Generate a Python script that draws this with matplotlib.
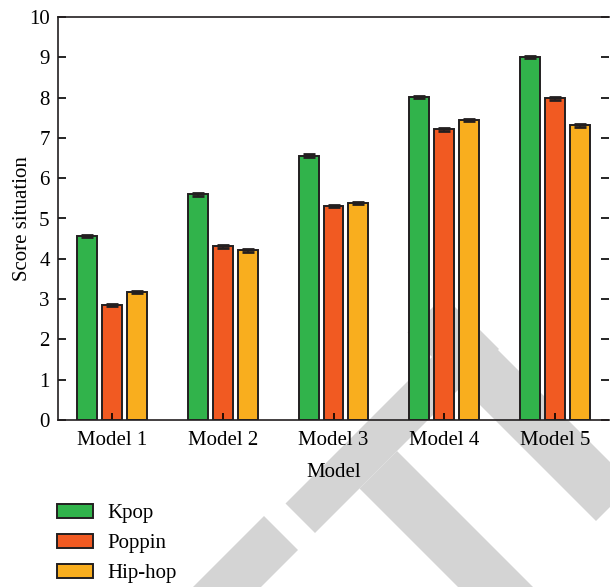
import numpy as np
import matplotlib
matplotlib.use('Agg')
import matplotlib.pyplot as plt
from matplotlib.patches import Polygon

models = ['Model 1', 'Model 2', 'Model 3', 'Model 4', 'Model 5']
kpop = [4.56, 5.60, 6.56, 8.01, 9.01]
poppin = [2.86, 4.31, 5.31, 7.21, 7.98]
hiphop = [3.18, 4.21, 5.39, 7.45, 7.31]
err = [0.03, 0.03, 0.03, 0.03, 0.03]

series = [('Kpop', kpop, '#31b34b'), ('Poppin', poppin, '#f15a22'), ('Hip-hop', hiphop, '#f9ae1e')]

plt.rcParams['font.family'] = ['Liberation Serif', 'DejaVu Serif']
plt.rcParams['font.size'] = 15

W, H = 610, 587
fig = plt.figure(figsize=(W / 100, H / 100), dpi=100)

# publisher watermark (grey diagonal bands), in pixel coords of the page
def px(pts):
    return [(x / W, 1 - y / H) for x, y in pts]

def band(s1, s2, d1, d2):
    # region between x+y in [s1, s2] and x-y in [d1, d2]
    pts = []
    for s, d in [(s1, d1), (s1, d2), (s2, d2), (s2, d1)]:
        pts.append(((s + d) / 2, (s - d) / 2))
    return pts

wm = '#d4d4d4'
for pts in [band(789, 848, -218, 150),
            band(780, 848, -400, -252),
            band(848, 1180, -129, -54),
            band(740, 1117, 75, 148)]:
    fig.patches.append(Polygon(px(pts), closed=True, transform=fig.transFigure,
                               facecolor=wm, edgecolor='none', zorder=0))

ax = fig.add_axes([58 / W, 1 - 420 / H, 551 / W, 403 / H])
ax.set_facecolor('none')
ax.set_zorder(2)

x = np.arange(1, len(models) + 1)
width = 0.18
step = 0.225
handles = []
for i, (name, vals, col) in enumerate(series):
    b = ax.bar(x + (i - 1) * step, vals, width, yerr=err, color=col,
               edgecolor='#231f20', linewidth=1.4, label=name,
               error_kw=dict(ecolor='#231f20', capsize=4, elinewidth=1.2, capthick=2))
    handles.append(b)

ax.set_xlim(0.51, 5.49)
ax.set_ylim(0, 10)
ax.set_yticks(range(0, 11))
ax.set_xticks(x)
ax.set_xticklabels(models)
ax.tick_params(axis='y', direction='in', length=6, width=1.2, left=True, right=True, pad=6)
ax.tick_params(axis='x', direction='in', length=5, width=1.2, pad=8)
for sp in ax.spines.values():
    sp.set_linewidth(1.2)
    sp.set_color('#231f20')
ax.spines['right'].set_visible(False)

ax.set_xlabel('Model', labelpad=9)
ax.set_ylabel('Score situation', labelpad=-2)

leg = fig.legend(handles=handles, labels=[s[0] for s in series], loc='upper left',
                 bbox_to_anchor=(38 / W, 1 - 485 / H), frameon=False,
                 handlelength=1.75, handleheight=0.68, handletextpad=0.7, labelspacing=0.5)
leg.set_zorder(3)

fig.savefig('out.png', dpi=100)
